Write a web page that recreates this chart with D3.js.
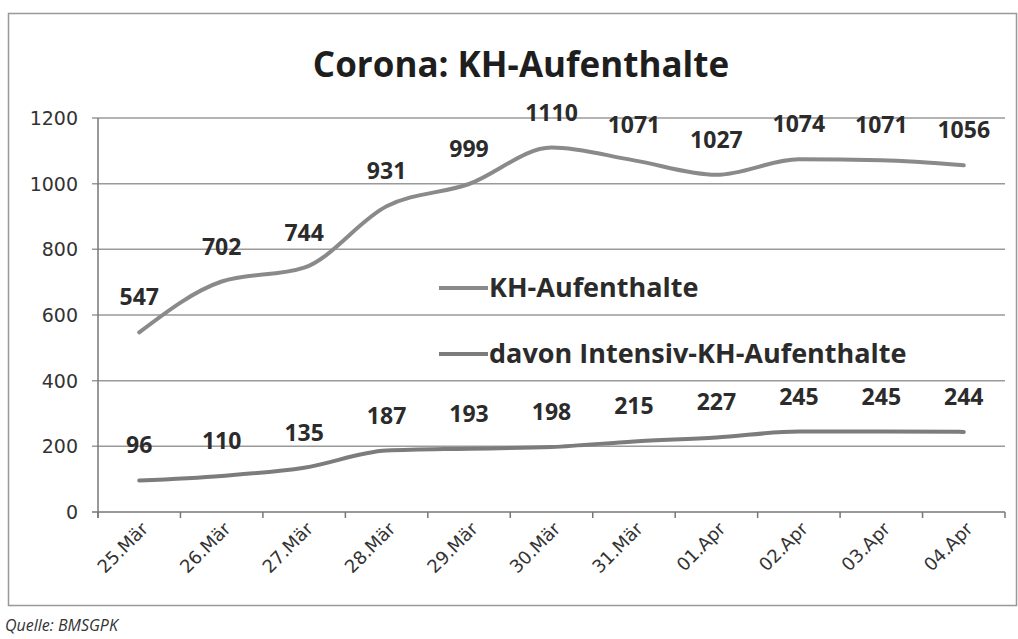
<!DOCTYPE html>
<html>
<head>
<meta charset="utf-8">
<script src="https://cdn.jsdelivr.net/npm/d3@7"></script>
<style>
  body { margin: 0; background: #fff; }
  svg { display: block; }
</style>
</head>
<body>
<div class="chart"></div>
<script>
        // Data
        var categories = ["25.Mär", "26.Mär", "27.Mär", "28.Mär", "29.Mär", "30.Mär", "31.Mär", "01.Apr", "02.Apr", "03.Apr", "04.Apr"];
        var khAufenthalte = [547, 702, 744, 931, 999, 1110, 1071, 1027, 1074, 1071, 1056];
        var intensiv = [96, 110, 135, 187, 193, 198, 215, 227, 245, 245, 244];
        var yTicks = [0, 200, 400, 600, 800, 1000, 1200];
        var seriesNames = ["KH-Aufenthalte", "davon Intensiv-KH-Aufenthalte"];

        var w = 1018;
        var h = 639;

        var svg = d3.select("div.chart")
                    .append("svg")
                    .attr("width", w)
                    .attr("height", h);

        // outer frame
        svg.append("rect")
           .attr("x", 8.5)
           .attr("y", 13.5)
           .attr("width", 1008)
           .attr("height", 592)
           .attr("fill", "none")
           .attr("stroke", "#999")
           .attr("stroke-width", 1.5);

        var xScale = d3.scaleBand()
                       .domain(categories)
                       .range([98, 1005]);

        var yScale = d3.scaleLinear()
                       .domain([0, 1200])
                       .range([512, 118]);

        // gridlines
        svg.selectAll("line.grid")
           .data(yTicks)
           .enter()
           .append("line")
           .attr("class", "grid")
           .attr("x1", 92)
           .attr("x2", 1005)
           .attr("y1", function(d) { return yScale(d); })
           .attr("y2", function(d) { return yScale(d); })
           .attr("stroke", function(d) { return d === 0 ? "#777" : "#9a9a9a"; })
           .attr("stroke-width", 1.5);

        // y axis line
        svg.append("line")
           .attr("x1", 98).attr("x2", 98)
           .attr("y1", yScale(1200)).attr("y2", 518)
           .attr("stroke", "#777")
           .attr("stroke-width", 1.5);

        // y tick labels
        svg.selectAll("text.ytick")
           .data(yTicks)
           .enter()
           .append("text")
           .attr("class", "ytick")
           .attr("x", 78)
           .attr("y", function(d) { return yScale(d) + 7; })
           .attr("text-anchor", "end")
           .attr("font-family", "DejaVu Sans")
           .attr("font-size", "19px")
           .attr("fill", "#333")
           .text(function(d) { return d; });

        // x ticks at band edges
        var edges = categories.map(function(d) { return xScale(d); }).concat([xScale.range()[1]]);
        svg.selectAll("line.xtick")
           .data(edges)
           .enter()
           .append("line")
           .attr("class", "xtick")
           .attr("x1", function(d) { return d; })
           .attr("x2", function(d) { return d; })
           .attr("y1", 512)
           .attr("y2", 518)
           .attr("stroke", "#777")
           .attr("stroke-width", 1.5);

        // x labels, rotated
        svg.selectAll("text.xlabel")
           .data(categories)
           .enter()
           .append("text")
           .attr("class", "xlabel")
           .attr("text-anchor", "end")
           .attr("transform", function(d) {
                return "translate(" + (xScale(d) + xScale.bandwidth() / 2 + 10) + ",530) rotate(-45)";
           })
           .attr("font-family", "DejaVu Sans")
           .attr("font-size", "18px")
           .attr("fill", "#333")
           .text(function(d) { return d; });

        var cx = function(d, i) { return xScale(categories[i]) + xScale.bandwidth() / 2; };

        var line = d3.line()
                     .x(cx)
                     .y(function(d) { return yScale(d); })
                     .curve(d3.curveMonotoneX);

        var colors = ["#8a8a8a", "#7c7c7c"];
        var series = [khAufenthalte, intensiv];

        series.forEach(function(s, k) {
            svg.append("path")
               .datum(s)
               .attr("d", line)
               .attr("fill", "none")
               .attr("stroke", colors[k])
               .attr("stroke-width", 4)
               .attr("stroke-linecap", "round");

            svg.selectAll("text.val" + k)
               .data(s)
               .enter()
               .append("text")
               .attr("class", "val" + k)
               .attr("x", cx)
               .attr("y", function(d) { return yScale(d) - 27; })
               .attr("text-anchor", "middle")
               .attr("font-family", "Open Sans")
               .attr("font-weight", "bold")
               .attr("font-size", "23px")
               .attr("fill", "#2b2b2b")
               .text(function(d) { return d; });
        });

        // legend
        var legendY = [288, 354];
        seriesNames.forEach(function(name, k) {
            svg.append("line")
               .attr("x1", 439).attr("x2", 488)
               .attr("y1", legendY[k]).attr("y2", legendY[k])
               .attr("stroke", colors[k])
               .attr("stroke-width", 4);
            svg.append("text")
               .attr("x", 489)
               .attr("y", legendY[k] + 9)
               .attr("font-family", "Open Sans")
               .attr("font-weight", "bold")
               .attr("font-size", "27px")
               .attr("fill", "#2b2b2b")
               .text(name);
        });

        // title
        svg.append("text")
           .attr("x", 521)
           .attr("y", 77)
           .attr("text-anchor", "middle")
           .attr("font-family", "Open Sans")
           .attr("font-weight", "bold")
           .attr("font-size", "35px")
           .attr("fill", "#1e1e1e")
           .text("Corona: KH-Aufenthalte");

        // source
        svg.append("text")
           .attr("x", 5)
           .attr("y", 631)
           .attr("font-family", "Open Sans")
           .attr("font-style", "italic")
           .attr("font-size", "16px")
           .attr("fill", "#333")
           .text("Quelle: BMSGPK");
</script>
</body>
</html>
